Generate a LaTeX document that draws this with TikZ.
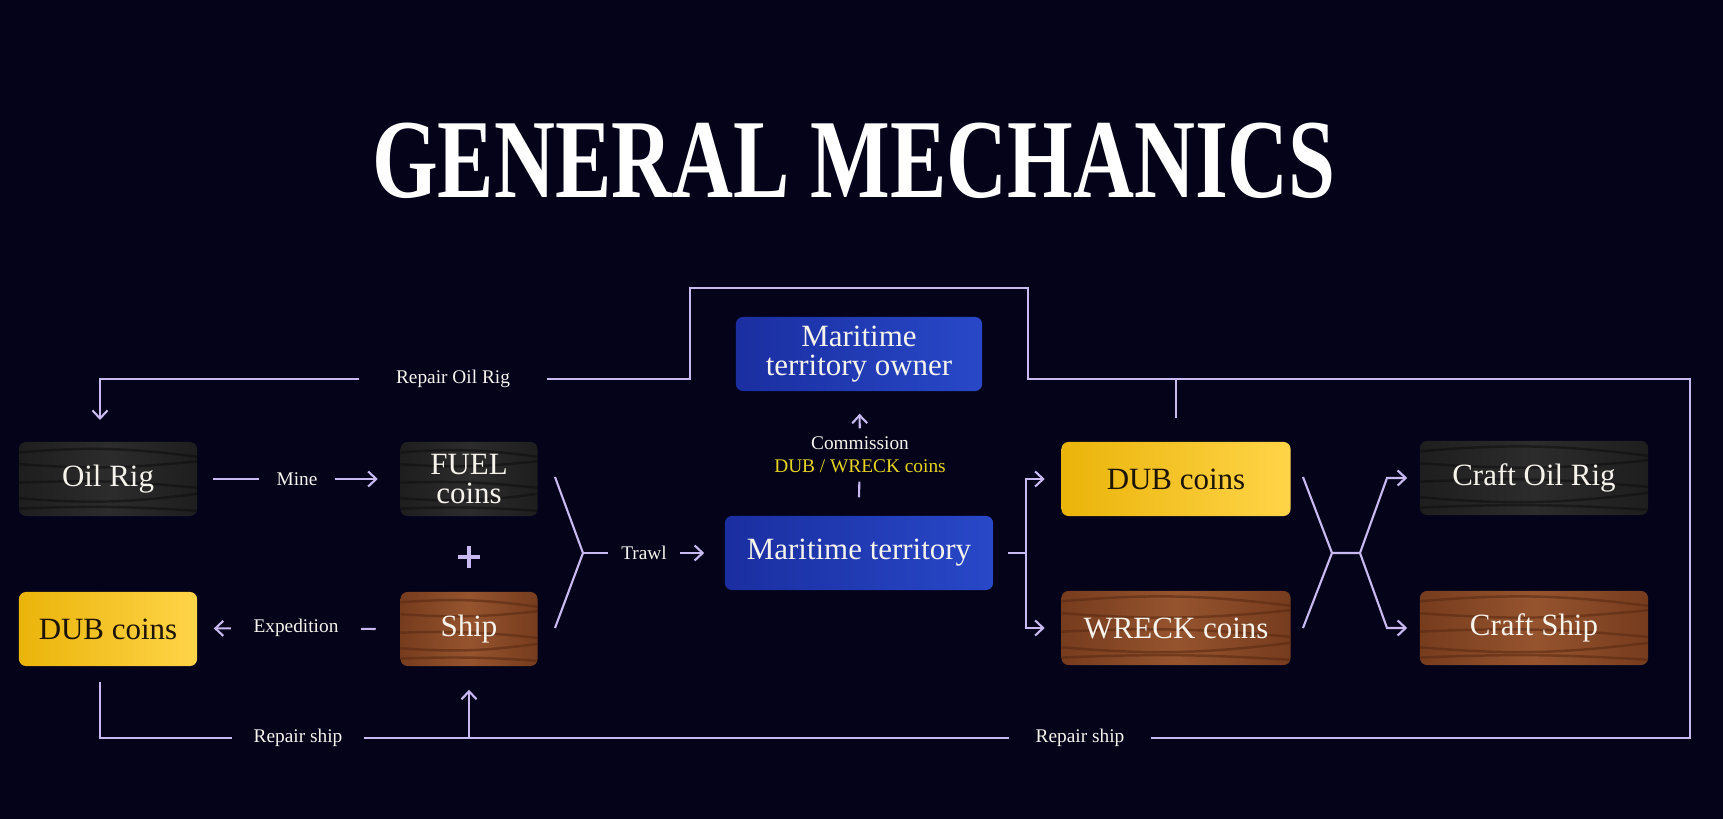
\documentclass[tikz,border=0pt]{standalone}
\usepackage{fontspec}
\setmainfont{Liberation Serif}
\usetikzlibrary{arrows.meta,calc}

\definecolor{bg}{RGB}{4,3,26}
\definecolor{lilac}{RGB}{200,186,240}
\definecolor{cream}{RGB}{246,243,236}
\definecolor{ink}{RGB}{28,20,4}
\definecolor{dubyellow}{RGB}{232,212,30}
\definecolor{coalA}{RGB}{30,30,30}
\definecolor{coalB}{RGB}{44,44,44}
\definecolor{coalC}{RGB}{14,14,14}
\definecolor{barkA}{RGB}{118,60,30}
\definecolor{barkB}{RGB}{150,84,46}
\definecolor{barkC}{RGB}{88,40,16}
\definecolor{goldA}{RGB}{234,180,10}
\definecolor{goldB}{RGB}{255,212,72}
\definecolor{seaA}{RGB}{26,46,160}
\definecolor{seaB}{RGB}{40,72,200}

\begin{document}
\begin{tikzpicture}[x=0.01cm, y=-0.01cm,
	link/.style={draw=lilac, line width=0.6pt},
	arr/.style={-{Straight Barb[length=0.8mm,width=1.5mm]}},
	box/.style={rounded corners=0.07cm, minimum height=0.74cm, inner sep=0pt, align=center,
		font=\fontsize{8.8}{8.2}\selectfont, text=cream},
	grain/.style={path picture={
		\foreach \p/\q/\r in {0.14/0.2/6, 0.3/0.26/-5, 0.55/0.62/4, 0.76/0.7/-6, 0.9/0.93/3}
		\draw[#1, line width=0.7pt, opacity=0.55]
			($(path picture bounding box.north west)!\p!(path picture bounding box.south west)$)
			to[bend left=\r]
			($(path picture bounding box.north east)!\q!(path picture bounding box.south east)$);
	}},
	blackwood/.style={box, left color=coalA, right color=coalA, middle color=coalB, grain=coalC},
	brownwood/.style={box, left color=barkA, right color=barkA, middle color=barkB, grain=barkC},
	gold/.style={box, left color=goldA, right color=goldB, text=ink},
	sea/.style={box, left color=seaA, right color=seaB},
	lbl/.style={fill=bg, text=cream, inner xsep=0.2cm, inner ysep=0.05cm,
		font=\fontsize{5.5}{6.5}\selectfont},
	headline/.style={text=white, xscale=0.75, anchor=base, font=\fontsize{32}{32}\selectfont\bfseries}
	]
	\fill[bg] (0,0) rectangle (1723,819);
	\node[headline] (head) at (854,198) {GENERAL MECHANICS};

	% left column
	\node[blackwood, minimum width=1.78cm] (oil) at (108,479) {Oil Rig};
	\node[gold, minimum width=1.78cm] (dubL) at (108,629) {DUB coins};
	\node[blackwood, minimum width=1.37cm] (fuel) at (469,479) {FUEL\\coins};
	\node[brownwood, minimum width=1.37cm] (ship) at (469,629) {Ship};
	\draw[lilac, line width=1.3pt] (458,557) -- (480,557) (469,546) -- (469,568);

	% centre
	\node[sea, minimum width=2.46cm] (owner) at (859,354) {Maritime\\territory owner};
	\node[sea, minimum width=2.68cm] (sea) at (859,553) {Maritime territory};

	% right columns
	\node[gold, minimum width=2.29cm] (dubR) at (1176,479) {DUB coins};
	\node[brownwood, minimum width=2.29cm] (wreck) at (1176,628) {WRECK coins};
	\node[blackwood, minimum width=2.28cm] (craftrig) at (1534,478) {Craft Oil Rig};
	\node[brownwood, minimum width=2.28cm] (craftship) at (1534,628) {Craft Ship};

	% labels on the links
	\node[lbl, inner xsep=0.17cm] (mine) at (297,479) {Mine};
	\node[lbl, inner xsep=0.22cm] (exped) at (296,628) {Expedition};
	\node[lbl, inner xsep=0.13cm] (trawl) at (644,553) {Trawl};
	\node[lbl, inner xsep=0.36cm] (repoil) at (453,379) {Repair Oil Rig};
	\node[lbl, inner xsep=0.21cm] (repshipL) at (298,738) {Repair ship};
	\node[lbl, inner xsep=0.26cm] (repshipR) at (1080,738) {Repair ship};
	\node[lbl, align=center, inner ysep=0.08cm, inner xsep=0.05cm] (comm) at (860,455)
		{Commission\\\textcolor{dubyellow}{DUB / WRECK coins}};

	\draw[link, arr, shorten >=0.22cm] ([xshift=0.15cm]oil.east) -- (mine) -- (fuel);
	\draw[link, arr, shorten >=0.16cm] ([xshift=-0.24cm]ship.west) -- (exped) -- (dubL);

	% trawl
	\coordinate (tj) at (583,553);
	\draw[link] (555,477) -- (tj) -- (555,628);
	\draw[link, arr, shorten >=0.2cm] (tj) -- (trawl) -- (sea);
	\draw[link, arr, shorten >=0.22cm] ([yshift=0.18cm]sea.north) -- (comm) -- (owner);

	% split to coins
	\coordinate (sj) at (1026,553);
	\draw[link] ([xshift=0.14cm]sea.east) -- (sj);
	\draw[link, arr, shorten >=0.16cm] (sj) |- (dubR);
	\draw[link, arr, shorten >=0.16cm] (sj) |- (wreck);

	% crafting
	\coordinate (xa) at (1332,553);
	\coordinate (xb) at (1360,553);
	\draw[link] (1303,477) -- (xa) -- (1303,628) (xa) -- (xb);
	\draw[link, arr, shorten >=0.12cm] (xb) -- (1387,478) -- (craftrig);
	\draw[link, arr, shorten >=0.12cm] (xb) -- (1387,628) -- (craftship);

	% repair loops
	\draw[link] ([yshift=0.23cm]dubR.north) -- (1176,379);
	\draw[link, arr] (100,682) -- (100,738) -- (repshipL) -- (repshipR) -- (1690,738)
		-- (1690,379) -- (1028,379) -- (1028,288) -- (690,288) -- (690,379)
		-- (repoil) -- (100,379) -- (100,420);
	\draw[link, arr, shorten >=0.23cm] (469,738) -- (ship);
\end{tikzpicture}
\end{document}
